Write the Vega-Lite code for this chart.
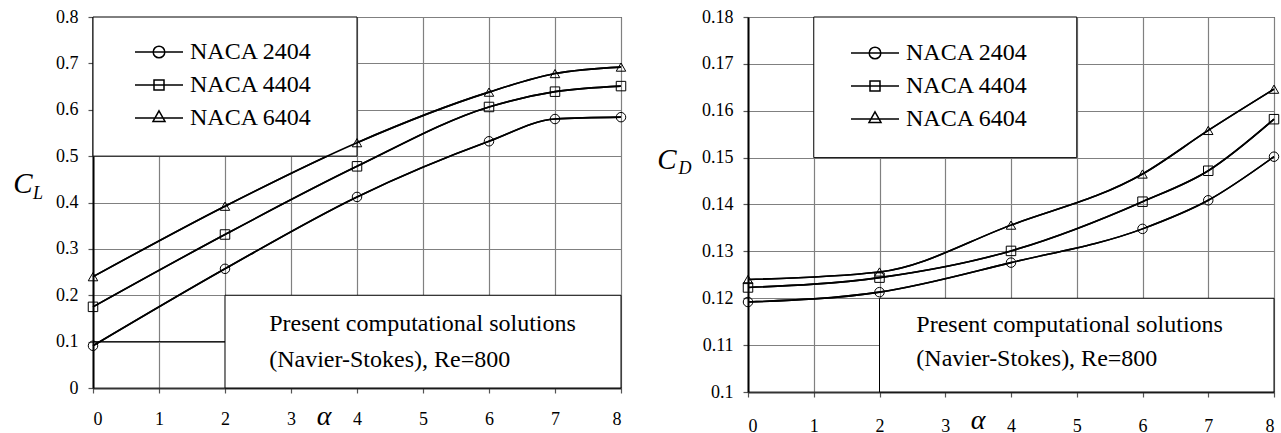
{
  "$schema": "https://vega.github.io/schema/vega-lite/v6.json",
  "padding": {"left": 12, "top": 7, "right": 2, "bottom": 0},
  "background": "white",
  "spacing": 27,
  "config": {
    "font": "Liberation Serif, Times New Roman, serif",
    "view": {"stroke": "black", "strokeWidth": 1},
    "text": {"font": "Liberation Serif, Times New Roman, serif"},
    "axis": {
      "labelFont": "Liberation Serif, Times New Roman, serif", "labelFontSize": 18, "labelColor": "black",
      "domainColor": "black", "domainWidth": 2, "tickColor": "#555", "tickSize": 5, "tickWidth": 1.2,
      "gridColor": "#808080", "gridWidth": 1.2, "gridOpacity": 1
    },
    "legend": {
      "orient": "none", "title": null, "padding": 0,
      "symbolSize": 400, "symbolStrokeColor": "black", "symbolFillColor": "transparent", "symbolStrokeWidth": 1.5, "symbolOpacity": 1,
      "labelFont": "Liberation Serif, Times New Roman, serif", "labelFontSize": 24, "labelColor": "black", "labelOffset": 19, "rowPadding": 9,
      "labelLimit": 300
    }
  },
  "datasets": {
    "cl": [
      {"alpha": 0, "series": "NACA 2404", "value": 0.091},
      {"alpha": 2, "series": "NACA 2404", "value": 0.257},
      {"alpha": 4, "series": "NACA 2404", "value": 0.412},
      {"alpha": 6, "series": "NACA 2404", "value": 0.532},
      {"alpha": 7, "series": "NACA 2404", "value": 0.580},
      {"alpha": 8, "series": "NACA 2404", "value": 0.584},
      {"alpha": 0, "series": "NACA 4404", "value": 0.175},
      {"alpha": 2, "series": "NACA 4404", "value": 0.331},
      {"alpha": 4, "series": "NACA 4404", "value": 0.478},
      {"alpha": 6, "series": "NACA 4404", "value": 0.606},
      {"alpha": 7, "series": "NACA 4404", "value": 0.639},
      {"alpha": 8, "series": "NACA 4404", "value": 0.651},
      {"alpha": 0, "series": "NACA 6404", "value": 0.240},
      {"alpha": 2, "series": "NACA 6404", "value": 0.392},
      {"alpha": 4, "series": "NACA 6404", "value": 0.529},
      {"alpha": 6, "series": "NACA 6404", "value": 0.638},
      {"alpha": 7, "series": "NACA 6404", "value": 0.678},
      {"alpha": 8, "series": "NACA 6404", "value": 0.692}
    ],
    "cd": [
      {"alpha": 0, "series": "NACA 2404", "value": 0.1192},
      {"alpha": 2, "series": "NACA 2404", "value": 0.1213},
      {"alpha": 4, "series": "NACA 2404", "value": 0.1276},
      {"alpha": 6, "series": "NACA 2404", "value": 0.1348},
      {"alpha": 7, "series": "NACA 2404", "value": 0.1409},
      {"alpha": 8, "series": "NACA 2404", "value": 0.1502},
      {"alpha": 0, "series": "NACA 4404", "value": 0.1223},
      {"alpha": 2, "series": "NACA 4404", "value": 0.1244},
      {"alpha": 4, "series": "NACA 4404", "value": 0.1301},
      {"alpha": 6, "series": "NACA 4404", "value": 0.1406},
      {"alpha": 7, "series": "NACA 4404", "value": 0.1472},
      {"alpha": 8, "series": "NACA 4404", "value": 0.1582},
      {"alpha": 0, "series": "NACA 6404", "value": 0.1240},
      {"alpha": 2, "series": "NACA 6404", "value": 0.1256},
      {"alpha": 4, "series": "NACA 6404", "value": 0.1356},
      {"alpha": 6, "series": "NACA 6404", "value": 0.1465},
      {"alpha": 7, "series": "NACA 6404", "value": 0.1558},
      {"alpha": 8, "series": "NACA 6404", "value": 0.1646}
    ]
  },
  "resolve": {
    "scale": {"x": "independent", "y": "independent", "shape": "independent"},
    "legend": {"shape": "independent"}
  },
  "hconcat": [
    {
      "width": 528, "height": 371,
      "data": {"name": "cl"},
      "layer": [
        {
          "mark": {"type": "line", "interpolate": "monotone", "color": "black", "strokeWidth": 1.6},
          "encoding": {
            "x": {"field": "alpha", "type": "quantitative", "title": null,
                  "scale": {"domain": [0, 8], "nice": false, "zero": false},
                  "axis": {"values": [0,1,2,3,4,5,6,7,8], "format": "d", "grid": true, "labelPadding": 17, "domainColor": "#333"}},
            "y": {"field": "value", "type": "quantitative", "title": null,
                  "scale": {"domain": [0, 0.8], "nice": false},
                  "axis": {"values": [0,0.1,0.2,0.3,0.4,0.5,0.6,0.7,0.8], "format": "~g", "grid": true, "labelPadding": 10}},
            "detail": {"field": "series"}
          }
        },
        {
          "data": {"values": [{}]},
          "mark": {"type": "rect", "fill": "white", "stroke": "black", "strokeWidth": 1},
          "encoding": {
            "x": {"datum": 0, "type": "quantitative"}, "x2": {"datum": 4},
            "y": {"datum": 0.5, "type": "quantitative"}, "y2": {"datum": 0.8}
          }
        },
        {
          "data": {"values": [{}]},
          "mark": {"type": "rect", "fill": "white", "stroke": "black", "strokeWidth": 1},
          "encoding": {
            "x": {"datum": 2, "type": "quantitative"}, "x2": {"datum": 8},
            "y": {"datum": 0, "type": "quantitative"}, "y2": {"datum": 0.2}
          }
        },
        {
          "data": {"values": [{}]},
          "mark": {"type": "rule", "color": "black", "strokeWidth": 1},
          "encoding": {
            "x": {"datum": 0, "type": "quantitative"}, "x2": {"datum": 2},
            "y": {"datum": 0.1, "type": "quantitative"}
          }
        },
        {
          "mark": {"type": "line", "interpolate": "monotone", "color": "black", "strokeWidth": 1.6},
          "encoding": {
            "x": {"field": "alpha", "type": "quantitative"},
            "y": {"field": "value", "type": "quantitative"},
            "detail": {"field": "series"}
          }
        },
        {
          "mark": {"type": "point", "filled": false, "color": "black", "strokeWidth": 1, "size": 90, "opacity": 1},
          "encoding": {
            "x": {"field": "alpha", "type": "quantitative"},
            "y": {"field": "value", "type": "quantitative"},
            "shape": {"condition": [{"test": "datum.series === 'NACA 2404'", "value": "circle"}, {"test": "datum.series === 'NACA 4404'", "value": "square"}], "value": "triangle-up"}
          }
        },
        {
          "mark": {"type": "point", "filled": false, "color": "black", "strokeWidth": 1, "size": 1, "opacity": 0},
          "encoding": {
            "x": {"field": "alpha", "type": "quantitative"},
            "y": {"field": "value", "type": "quantitative"},
            "shape": {"field": "series", "type": "nominal",
              "scale": {"domain": ["NACA 2404", "NACA 4404", "NACA 6404"],
                        "range": ["M-2.4,0H2.4M0.58,0A0.58,0.58,0,1,1,-0.58,0A0.58,0.58,0,1,1,0.58,0", "M-2.4,0H2.4M-0.5,-0.5H0.5V0.5H-0.5Z", "M-2.4,0H2.4M0,-0.72L0.6,0.34L-0.6,0.34Z"]},
              "legend": {"legendX": 54, "legendY": 23}
            }
          }
        },
        {
          "data": {"values": [{}]},
          "mark": {"type": "text", "text": "Present computational solutions", "align": "left", "baseline": "middle", "fontSize": 24, "color": "black"},
          "encoding": {"x": {"datum": 2.67, "type": "quantitative"}, "y": {"datum": 0.138, "type": "quantitative"}}
        },
        {
          "data": {"values": [{}]},
          "mark": {"type": "text", "text": "(Navier-Stokes), Re=800", "align": "left", "baseline": "middle", "fontSize": 24, "color": "black"},
          "encoding": {"x": {"datum": 2.67, "type": "quantitative"}, "y": {"datum": 0.060, "type": "quantitative"}}
        },
        {
          "data": {"values": [{}]},
          "mark": {"type": "text", "text": "C", "align": "center", "baseline": "middle", "fontSize": 29, "fontStyle": "italic", "color": "black", "dx": -70},
          "encoding": {"x": {"datum": 0, "type": "quantitative"}, "y": {"datum": 0.44, "type": "quantitative"}}
        },
        {
          "data": {"values": [{}]},
          "mark": {"type": "text", "text": "L", "align": "center", "baseline": "middle", "fontSize": 18, "fontStyle": "italic", "color": "black", "dx": -55, "dy": 10},
          "encoding": {"x": {"datum": 0, "type": "quantitative"}, "y": {"datum": 0.44, "type": "quantitative"}}
        },
        {
          "data": {"values": [{}]},
          "mark": {"type": "text", "text": "α", "align": "center", "baseline": "middle", "fontSize": 28, "fontStyle": "italic", "color": "black", "dy": 29},
          "encoding": {"x": {"datum": 3.5, "type": "quantitative"}, "y": {"datum": 0, "type": "quantitative"}}
        }
      ]
    },
    {
      "width": 526, "height": 375,
      "data": {"name": "cd"},
      "layer": [
        {
          "mark": {"type": "line", "interpolate": "monotone", "color": "black", "strokeWidth": 1.6},
          "encoding": {
            "x": {"field": "alpha", "type": "quantitative", "title": null,
                  "scale": {"domain": [0, 8], "nice": false, "zero": false},
                  "axis": {"values": [0,1,2,3,4,5,6,7,8], "format": "d", "grid": true, "labelPadding": 20, "domainColor": "#333"}},
            "y": {"field": "value", "type": "quantitative", "title": null,
                  "scale": {"domain": [0.1, 0.18], "nice": false, "zero": false},
                  "axis": {"values": [0.1,0.11,0.12,0.13,0.14,0.15,0.16,0.17,0.18], "format": "~g", "grid": true, "labelPadding": 10}},
            "detail": {"field": "series"}
          }
        },
        {
          "data": {"values": [{}]},
          "mark": {"type": "rect", "fill": "white", "stroke": "black", "strokeWidth": 1},
          "encoding": {
            "x": {"datum": 1, "type": "quantitative"}, "x2": {"datum": 5},
            "y": {"datum": 0.15, "type": "quantitative"}, "y2": {"datum": 0.18}
          }
        },
        {
          "data": {"values": [{}]},
          "mark": {"type": "rect", "fill": "white", "stroke": "black", "strokeWidth": 1},
          "encoding": {
            "x": {"datum": 2, "type": "quantitative"}, "x2": {"datum": 8},
            "y": {"datum": 0.1, "type": "quantitative"}, "y2": {"datum": 0.12}
          }
        },
        {
          "mark": {"type": "line", "interpolate": "monotone", "color": "black", "strokeWidth": 1.6},
          "encoding": {
            "x": {"field": "alpha", "type": "quantitative"},
            "y": {"field": "value", "type": "quantitative"},
            "detail": {"field": "series"}
          }
        },
        {
          "mark": {"type": "point", "filled": false, "color": "black", "strokeWidth": 1, "size": 90, "opacity": 1},
          "encoding": {
            "x": {"field": "alpha", "type": "quantitative"},
            "y": {"field": "value", "type": "quantitative"},
            "shape": {"condition": [{"test": "datum.series === 'NACA 2404'", "value": "circle"}, {"test": "datum.series === 'NACA 4404'", "value": "square"}], "value": "triangle-up"}
          }
        },
        {
          "mark": {"type": "point", "filled": false, "color": "black", "strokeWidth": 1, "size": 1, "opacity": 0},
          "encoding": {
            "x": {"field": "alpha", "type": "quantitative"},
            "y": {"field": "value", "type": "quantitative"},
            "shape": {"field": "series", "type": "nominal",
              "scale": {"domain": ["NACA 2404", "NACA 4404", "NACA 6404"],
                        "range": ["M-2.4,0H2.4M0.58,0A0.58,0.58,0,1,1,-0.58,0A0.58,0.58,0,1,1,0.58,0", "M-2.4,0H2.4M-0.5,-0.5H0.5V0.5H-0.5Z", "M-2.4,0H2.4M0,-0.72L0.6,0.34L-0.6,0.34Z"]},
              "legend": {"legendX": 115, "legendY": 24}
            }
          }
        },
        {
          "data": {"values": [{}]},
          "mark": {"type": "text", "text": "Present computational solutions", "align": "left", "baseline": "middle", "fontSize": 24, "color": "black"},
          "encoding": {"x": {"datum": 2.56, "type": "quantitative"}, "y": {"datum": 0.1143, "type": "quantitative"}}
        },
        {
          "data": {"values": [{}]},
          "mark": {"type": "text", "text": "(Navier-Stokes), Re=800", "align": "left", "baseline": "middle", "fontSize": 24, "color": "black"},
          "encoding": {"x": {"datum": 2.56, "type": "quantitative"}, "y": {"datum": 0.107, "type": "quantitative"}}
        },
        {
          "data": {"values": [{}]},
          "mark": {"type": "text", "text": "C", "align": "center", "baseline": "middle", "fontSize": 29, "fontStyle": "italic", "color": "black", "dx": -81},
          "encoding": {"x": {"datum": 0, "type": "quantitative"}, "y": {"datum": 0.1495, "type": "quantitative"}}
        },
        {
          "data": {"values": [{}]},
          "mark": {"type": "text", "text": "D", "align": "center", "baseline": "middle", "fontSize": 18, "fontStyle": "italic", "color": "black", "dx": -63, "dy": 9},
          "encoding": {"x": {"datum": 0, "type": "quantitative"}, "y": {"datum": 0.1495, "type": "quantitative"}}
        },
        {
          "data": {"values": [{}]},
          "mark": {"type": "text", "text": "α", "align": "center", "baseline": "middle", "fontSize": 28, "fontStyle": "italic", "color": "black", "dy": 29},
          "encoding": {"x": {"datum": 3.5, "type": "quantitative"}, "y": {"datum": 0.1, "type": "quantitative"}}
        }
      ]
    }
  ]
}
